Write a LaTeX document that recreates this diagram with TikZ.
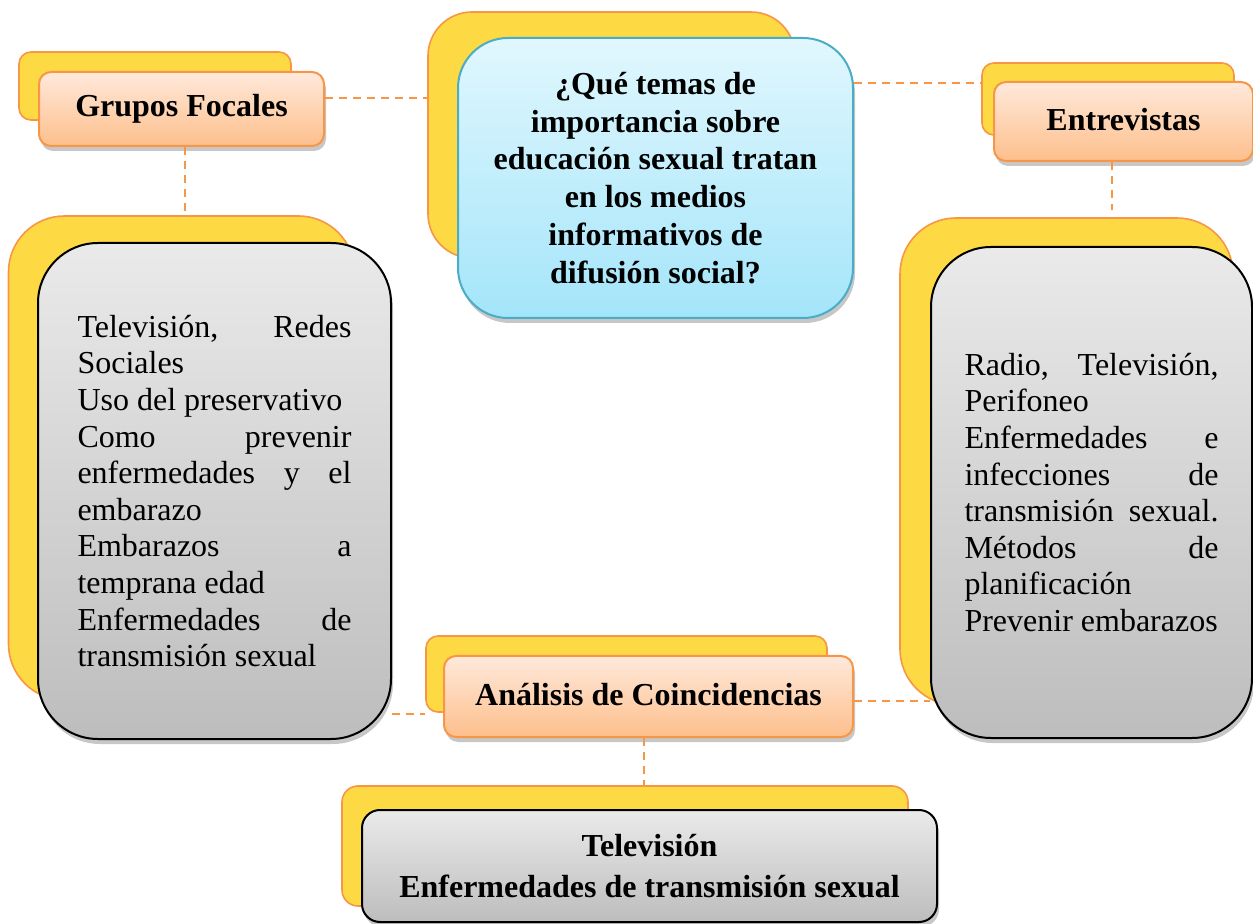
\documentclass[tikz,border=0pt]{standalone}
\usepackage{fontspec}
\setmainfont{Liberation Serif}
\usetikzlibrary{shadows}
\definecolor{ylw}{HTML}{FDD944}
\definecolor{orb}{HTML}{F79646}
\definecolor{pchtop}{HTML}{FFE9DB}
\definecolor{pchbot}{HTML}{FDBF8C}
\definecolor{blutop}{HTML}{E1F7FD}
\definecolor{blubot}{HTML}{A4E5FA}
\definecolor{bluline}{HTML}{4BACC6}
\definecolor{grytop}{HTML}{EAEAEA}
\definecolor{grybot}{HTML}{BDBDBD}
\tikzset{
  backbox/.style={draw=orb, fill=ylw, line width=0.8pt, inner sep=0pt},
  shad/.style={drop shadow={shadow xshift=1pt, shadow yshift=-2.5pt, opacity=0.22, fill=black}},
  peachbox/.style={draw=orb, line width=1pt, top color=pchtop, bottom color=pchbot, rounded corners=6pt, inner sep=0pt, shad,
    font=\fontsize{16pt}{19pt}\selectfont\bfseries},
  bluebox/.style={draw=bluline, line width=1pt, top color=blutop, bottom color=blubot, rounded corners=25pt, inner sep=0pt, shad,
    font=\fontsize{16pt}{18.9pt}\selectfont\bfseries, align=center},
  graybox/.style={draw=black, line width=1pt, top color=grytop, bottom color=grybot, inner sep=0pt, shad},
  conn/.style={draw=orb, line width=0.8pt, dash pattern=on 4pt off 3pt},
}
\begin{document}
\begin{tikzpicture}[x=0.5pt, y=-0.5pt]
\useasboundingbox (0,0) rectangle (1253,924);
% Grupos Focales
\node[backbox, rounded corners=6pt, minimum width=136pt, minimum height=34pt] (gfb) at (155,86) {};
\node[peachbox, minimum width=142.5pt, minimum height=37pt] (gf) at (181.5,109) {\raisebox{2pt}{Grupos Focales}};
% Question
\node[backbox, rounded corners=22pt, minimum width=183.5pt, minimum height=123pt] (qb) at (611.5,135) {};
\node[bluebox, minimum width=197.5pt, minimum height=140pt] (q) at (655.5,178)
  {¿Qué temas de\\importancia sobre\\educación sexual tratan\\en los medios\\informativos de\\difusión social?};
% Entrevistas
\node[backbox, rounded corners=6pt, minimum width=126pt, minimum height=36pt] (eb) at (1108,99) {};
\node[peachbox, minimum width=129.5pt, minimum height=39.5pt] (e) at (1123.5,121.5) {\raisebox{2pt}{Entrevistas}};
% Left big
\node[backbox, rounded corners=28pt, minimum width=173pt, minimum height=242pt] (lbb) at (181.5,458) {};
\node[graybox, rounded corners=30pt, minimum width=176.5pt, minimum height=248pt] (lb) at (214.5,491)
  {\parbox{137pt}{\fontsize{16pt}{18.3pt}\selectfont
   Televisión,\hfill Redes\\
   Sociales\\
   Uso del preservativo\\
   Como\hfill prevenir\\
   enfermedades\hfill y\hfill el\\
   embarazo\\
   Embarazos\hfill a\\
   temprana edad\\
   Enfermedades\hfill de\\
   transmisión sexual}};
% Right big
\node[backbox, rounded corners=28pt, minimum width=166.5pt, minimum height=243.5pt] (rbb) at (1066.5,461.5) {};
\node[graybox, rounded corners=30pt, minimum width=160.5pt, minimum height=245.5pt] (rb) at (1091.5,492.5)
  {\parbox{127pt}{\fontsize{16pt}{18.3pt}\selectfont
   Radio,\hfill Televisión,\\
   Perifoneo\\
   Enfermedades\hfill e\\
   infecciones\hfill de\\
   transmisión\hfill sexual.\\
   Métodos\hfill de\\
   planificación\\
   Prevenir embarazos}};
% Analisis
\node[backbox, rounded corners=6pt, minimum width=200.5pt, minimum height=38pt] (ab) at (626.5,674) {};
\node[peachbox, minimum width=204.5pt, minimum height=40.5pt] (a) at (648.5,696.5) {\raisebox{2pt}{Análisis de Coincidencias}};
% Bottom
\node[backbox, rounded corners=8pt, minimum width=283pt, minimum height=60pt] (bb) at (625,846) {};
\node[graybox, rounded corners=9pt, minimum width=287.5pt, minimum height=56pt, align=center,
  font=\fontsize{16pt}{20.5pt}\selectfont\bfseries] (b) at (649.5,866) {Televisión\\Enfermedades de transmisión sexual};
% connectors
\draw[conn] (gf.east |- 0,98) -- (qb.west |- 0,98);
\draw[conn] (gf.south -| 185,0) -- (lbb.north -| 185,0);
\draw[conn] (q.east |- 0,83) -- (eb.west |- 0,83);
\draw[conn] (e.south -| 1112,0) -- (1112,210);
\draw[conn] (lb.east |- 0,714) -- (ab.west |- 0,714);
\draw[conn] (a.east |- 0,701) -- (rb.west |- 0,701);
\draw[conn] (a.south -| 644,0) -- (bb.north -| 644,0);
\end{tikzpicture}
\end{document}
